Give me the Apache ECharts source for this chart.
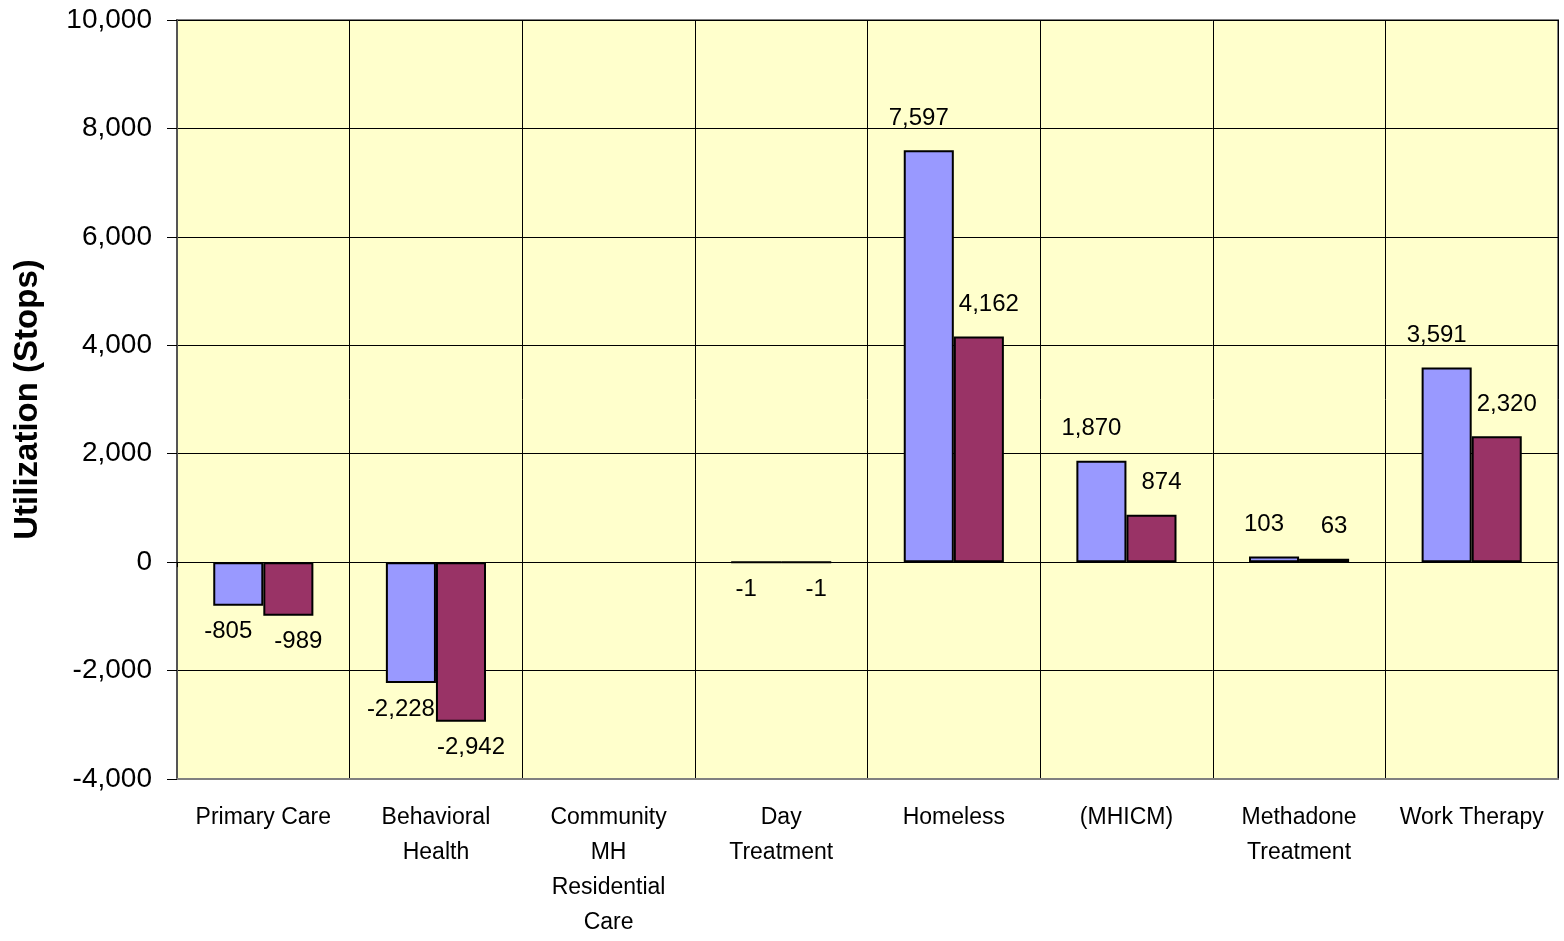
<!DOCTYPE html>
<html>
<head>
<meta charset="utf-8">
<title>Utilization (Stops)</title>
<script src="https://cdn.jsdelivr.net/npm/echarts@6/dist/echarts.min.js"></script>
<style>
  html, body { margin: 0; padding: 0; background: #fff; }
  #chart { width: 1564px; height: 941px; }
</style>
</head>
<body>
<div id="chart"></div>
<script>
// categories along the bottom
const categories = [
  'Primary Care',
  'Behavioral\nHealth',
  'Community\nMH\nResidential\nCare',
  'Day\nTreatment',
  'Homeless',
  '(MHICM)',
  'Methadone\nTreatment',
  'Work Therapy'
]
// blue bars (first series) and maroon bars (second series)
const seriesA = [-805, -2228, null, -1, 7597, 1870, 103, 3591]
const seriesB = [-989, -2942, null, -1, 4162, 874, 63, 2320]
// y axis range
const yMin = -4000
const yMax = 10000
const yStep = 2000

const fmt = v => Number(v).toLocaleString('en-US')

// put labels above positive bars, below negative ones
const withLabels = (values, dx) => values.map(v => {
  if (v === null) return null
  return {
    value: v,
    label: {
      position: v < 0 ? 'bottom' : 'top',
      distance: v < 0 ? 14 : 20,
      offset: [dx, 0]
    }
  }
})

const chart = echarts.init(document.getElementById('chart'))
chart.setOption({
  animation: false,
  backgroundColor: '#ffffff',
  textStyle: { fontFamily: 'Liberation Sans, Arial, sans-serif' },
  grid: {
    left: 177,
    top: 20,
    right: 6,
    bottom: 162,
    outerBoundsMode: 'none',
    containLabel: false,
    show: true,
    backgroundColor: '#FFFFCC',
    borderColor: '#808080',
    borderWidth: 2
  },
  xAxis: [
    {
      type: 'category',
      data: categories,
      axisLine: { onZero: false, lineStyle: { color: '#808080', width: 2 } },
      axisTick: { show: false },
      splitLine: { show: true, lineStyle: { color: '#000', width: 1 } },
      axisLabel: {
        color: '#000',
        fontSize: 23,
        lineHeight: 35,
        margin: 21,
        interval: 0,
        verticalAlign: 'top'
      }
    },
    {
      // little ticks on the zero line
      type: 'category',
      data: categories,
      position: 'bottom',
      axisLine: { onZero: true, lineStyle: { color: '#000', width: 1 } },
      axisTick: { show: true, length: 5, lineStyle: { color: '#000' } },
      axisLabel: { show: false },
      splitLine: { show: false }
    }
  ],
  yAxis: {
    type: 'value',
    min: yMin,
    max: yMax,
    interval: yStep,
    name: 'Utilization (Stops)',
    nameLocation: 'middle',
    nameGap: 133,
    nameTextStyle: { fontSize: 33, fontWeight: 'bold', color: '#000' },
    axisLine: { show: true, lineStyle: { color: '#555', width: 2 } },
    axisTick: { show: true, length: 10, lineStyle: { color: '#000' } },
    splitLine: { show: true, lineStyle: { color: '#000', width: 1 } },
    axisLabel: {
      color: '#000',
      fontSize: 28,
      margin: 25,
      formatter: v => fmt(v)
    }
  },
  series: [
    {
      name: 'A',
      type: 'bar',
      xAxisIndex: 0,
      data: withLabels(seriesA, -10),
      barWidth: '29%',
      barGap: '0%',
      itemStyle: { color: '#9999FF', borderColor: '#000', borderWidth: 2 },
      label: { show: true, color: '#000', fontSize: 24, formatter: p => fmt(p.value) }
    },
    {
      name: 'B',
      type: 'bar',
      xAxisIndex: 0,
      data: withLabels(seriesB, 10),
      barWidth: '29%',
      barGap: '0%',
      itemStyle: { color: '#993366', borderColor: '#000', borderWidth: 2 },
      label: { show: true, color: '#000', fontSize: 24, formatter: p => fmt(p.value) }
    }
  ]
})
</script>
</body>
</html>
